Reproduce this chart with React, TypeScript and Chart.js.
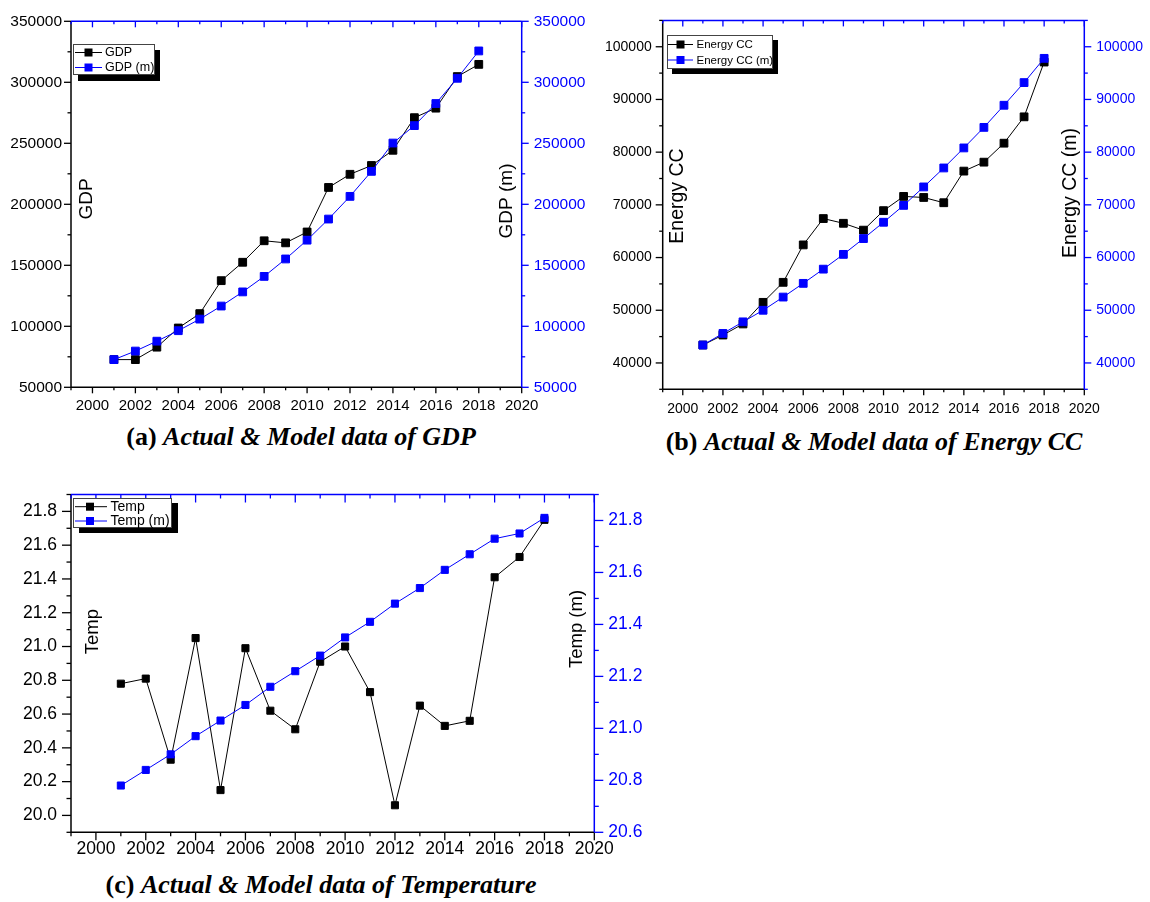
import React, { useEffect, useRef } from "react";
import { Chart, registerables } from "chart.js";

Chart.register(...registerables);

// ---------- data ----------
const years = [2001, 2002, 2003, 2004, 2005, 2006, 2007, 2008, 2009, 2010, 2011, 2012, 2013, 2014, 2015, 2016, 2017, 2018];

const gdpActual = [72700, 72700, 82900, 98600, 110400, 137400, 152500, 170100, 168400, 177300, 213800, 224600, 231800, 244300, 271000, 278800, 304700, 314700];
const gdpModel = [72700, 79700, 87800, 96400, 105900, 116600, 128200, 140900, 155200, 170600, 187900, 206500, 227000, 250200, 264500, 282600, 303300, 325700];

const energyActual = [43400, 45300, 47400, 51500, 55300, 62400, 67400, 66500, 65200, 68900, 71600, 71400, 70400, 76400, 78100, 81700, 86700, 97100];
const energyModel = [43400, 45600, 47800, 50000, 52500, 55100, 57800, 60600, 63600, 66700, 69900, 73400, 77000, 80800, 84700, 88900, 93200, 97800];

const tempActual = [20.78, 20.81, 20.33, 21.05, 20.15, 20.99, 20.62, 20.51, 20.91, 21.0, 20.73, 20.06, 20.65, 20.53, 20.56, 21.41, 21.53, 21.75];
const tempModel = [20.78, 20.84, 20.9, 20.97, 21.03, 21.09, 21.16, 21.22, 21.28, 21.35, 21.41, 21.48, 21.54, 21.61, 21.67, 21.73, 21.75, 21.81];

// tick labels
const xTickYears = [2000, 2002, 2004, 2006, 2008, 2010, 2012, 2014, 2016, 2018, 2020];
const gdpTicks = [50000, 100000, 150000, 200000, 250000, 300000, 350000];
const energyTicks = [40000, 50000, 60000, 70000, 80000, 90000, 100000];
const tempTicks = [20.0, 20.2, 20.4, 20.6, 20.8, 21.0, 21.2, 21.4, 21.6, 21.8];
const tempModelTicks = [20.6, 20.8, 21.0, 21.2, 21.4, 21.6, 21.8];

const BLUE = "#0000ff";
const SANS = "'Liberation Sans', Arial, Helvetica, sans-serif";
const SERIF = "'Liberation Serif', 'Times New Roman', serif";

type LegendCfg = {
  x: number; y: number; w: number; h: number; sdx: number; sdy: number;
  rows: number[]; lineX0: number; lineX1: number; markerX: number; markerSize: number;
  textX: number; font: number;
};

type PanelCfg = {
  left: number; top: number; width: number; height: number;
  padL: number; padR: number; padT: number; padB: number;
  yMin: number; yMax: number; yTicks: number[];
  y2Min: number; y2Max: number; y2Ticks: number[];
  decimals: number;
  yFont: number; xFont: number;
  yPadL: number; yPadR: number; xPad: number;
  tickMajor: number; tickMinor: number;
  actual: number[]; model: number[];
  labelA: string; labelM: string;
  pointRadius: number;
  legend: LegendCfg;
  titleL: { x: number; y: number; size: number };
  titleR: { x: number; y: number; size: number };
};

const panels: PanelCfg[] = [
  {
    left: 0, top: 0, width: 590, height: 420,
    padL: 71, padR: 68.3, padT: 16, padB: 32.7,
    yMin: 50000, yMax: 350000, yTicks: gdpTicks,
    y2Min: 50000, y2Max: 350000, y2Ticks: gdpTicks,
    decimals: 0,
    yFont: 15.5, xFont: 15,
    yPadL: 9, yPadR: 12, xPad: 10,
    tickMajor: 7, tickMinor: 3.5,
    actual: gdpActual, model: gdpModel,
    labelA: "GDP", labelM: "GDP (m)",
    pointRadius: 5.5,
    legend: { x: 73, y: 44, w: 82, h: 31, sdx: 5, sdy: 6, rows: [52.5, 67.5], lineX0: 75, lineX1: 102, markerX: 88.5, markerSize: 8, textX: 105, font: 12.5 },
    titleL: { x: 87, y: 199, size: 19 },
    titleR: { x: 507, y: 201, size: 19 },
  },
  {
    left: 590, top: 0, width: 560, height: 420,
    padL: 72.7, padR: 65.7, padT: 14, padB: 30.7,
    yMin: 35000, yMax: 105000, yTicks: energyTicks,
    y2Min: 35000, y2Max: 105000, y2Ticks: energyTicks,
    decimals: 0,
    yFont: 14, xFont: 14,
    yPadL: 11, yPadR: 12, xPad: 11.5,
    tickMajor: 7, tickMinor: 3.5,
    actual: energyActual, model: energyModel,
    labelA: "Energy CC", labelM: "Energy CC (m)",
    pointRadius: 5.5,
    legend: { x: 77, y: 35, w: 106, h: 34, sdx: 5, sdy: 5, rows: [44.5, 60], lineX0: 78, lineX1: 103, markerX: 90.5, markerSize: 8, textX: 106.5, font: 11.5 },
    titleL: { x: 88, y: 196, size: 19.5 },
    titleR: { x: 481, y: 193, size: 19.5 },
  },
  {
    left: 0, top: 470, width: 660, height: 400,
    padL: 71, padR: 65.7, padT: 11.7, padB: 37.7,
    yMin: 19.9, yMax: 21.9, yTicks: tempTicks,
    y2Min: 20.6, y2Max: 21.9, y2Ticks: tempModelTicks,
    decimals: 1,
    yFont: 17.5, xFont: 17.5,
    yPadL: 14, yPadR: 14, xPad: 6.5,
    tickMajor: 9, tickMinor: 4.5,
    actual: tempActual, model: tempModel,
    labelA: "Temp", labelM: "Temp (m)",
    pointRadius: 5,
    legend: { x: 73, y: 28, w: 99, h: 30, sdx: 6, sdy: 5, rows: [36.7, 51], lineX0: 75, lineX1: 107, markerX: 90, markerSize: 8, textX: 110.5, font: 14 },
    titleL: { x: 93, y: 161.7, size: 18.5 },
    titleR: { x: 577, y: 159, size: 18.5 },
  },
];

const captions = [
  { label: "(a)", text: "Actual & Model data of GDP", x: 301, y: 437 },
  { label: "(b)", text: "Actual & Model data of Energy CC", x: 874, y: 442 },
  { label: "(c)", text: "Actual & Model data of Temperature", x: 321, y: 885 },
];

function minorValues(ticks: number[], min: number, max: number): number[] {
  // midpoints between label ticks, extended to cover the axis range
  const step = ticks[1] - ticks[0];
  const out: number[] = [];
  for (let v = ticks[0] - step / 2; v >= min - 1e-9; v -= step) out.push(v);
  for (let i = 0; i < ticks.length; i++) {
    const m = ticks[i] + step / 2;
    if (m <= max + 1e-9) out.push(m);
  }
  return out;
}

function makeDecoPlugin(cfg: PanelCfg) {
  return {
    id: "deco",
    afterDatasetsDraw(chart: any) {
      const ctx: CanvasRenderingContext2D = chart.ctx;
      const { left, right, top, bottom } = chart.chartArea;
      const sx = chart.scales.x;
      const sy = chart.scales.y;
      const sy2 = chart.scales.y2;
      ctx.save();
      ctx.lineCap = "butt";
      const line = (x0: number, y0: number, x1: number, y1: number, c: string, w = 1.5) => {
        ctx.strokeStyle = c;
        ctx.lineWidth = w;
        ctx.beginPath();
        ctx.moveTo(x0, y0);
        ctx.lineTo(x1, y1);
        ctx.stroke();
      };
      // axis lines
      line(left, top, left, bottom, "#000");
      line(left, bottom, right, bottom, "#000");
      line(right, top, right, bottom, BLUE);
      line(left, top, right, top, BLUE);

      // x ticks (bottom outward, top inward)
      for (let yr = 1999; yr <= 2020; yr++) {
        const px = sx.getPixelForValue(yr);
        const len = yr % 2 === 0 ? cfg.tickMajor - 1 : cfg.tickMinor - 0.5;
        line(px, bottom, px, bottom + len, "#000", 1.3);
        line(px, top, px, top + len, BLUE, 1.3);
      }
      // left y ticks
      cfg.yTicks.forEach((v) => {
        const py = sy.getPixelForValue(v);
        line(left - cfg.tickMajor, py, left, py, "#000", 1.3);
      });
      minorValues(cfg.yTicks, cfg.yMin, cfg.yMax).forEach((v) => {
        const py = sy.getPixelForValue(v);
        line(left - cfg.tickMinor, py, left, py, "#000", 1.3);
      });
      // right y ticks
      cfg.y2Ticks.forEach((v) => {
        const py = sy2.getPixelForValue(v);
        line(right, py, right + cfg.tickMajor, py, BLUE, 1.3);
      });
      minorValues(cfg.y2Ticks, cfg.y2Min, cfg.y2Max).forEach((v) => {
        const py = sy2.getPixelForValue(v);
        line(right, py, right + cfg.tickMinor, py, BLUE, 1.3);
      });

      // axis titles (inside the plot)
      ctx.fillStyle = "#000";
      ctx.textAlign = "center";
      ctx.textBaseline = "middle";
      const drawV = (t: string, x: number, y: number, size: number) => {
        ctx.save();
        ctx.translate(x, y);
        ctx.rotate(-Math.PI / 2);
        ctx.font = `${size}px ${SANS}`;
        ctx.fillText(t, 0, 0);
        ctx.restore();
      };
      drawV(cfg.labelA, cfg.titleL.x, cfg.titleL.y, cfg.titleL.size);
      drawV(cfg.labelM, cfg.titleR.x, cfg.titleR.y, cfg.titleR.size);

      // legend with drop shadow
      const L = cfg.legend;
      ctx.fillStyle = "#000";
      ctx.fillRect(L.x + L.sdx, L.y + L.sdy, L.w, L.h);
      ctx.fillStyle = "#fff";
      ctx.fillRect(L.x, L.y, L.w, L.h);
      ctx.strokeStyle = "#444";
      ctx.lineWidth = 1;
      ctx.strokeRect(L.x + 0.5, L.y + 0.5, L.w - 1, L.h - 1);
      const entries = [
        { label: cfg.labelA, color: "#000" },
        { label: cfg.labelM, color: BLUE },
      ];
      entries.forEach((e, i) => {
        const ry = L.rows[i];
        line(L.lineX0, ry, L.lineX1, ry, e.color, 1);
        ctx.fillStyle = e.color;
        ctx.fillRect(L.markerX - L.markerSize / 2, ry - L.markerSize / 2, L.markerSize, L.markerSize);
        ctx.fillStyle = "#000";
        ctx.textAlign = "left";
        ctx.textBaseline = "middle";
        ctx.font = `${L.font}px ${SANS}`;
        ctx.fillText(e.label, L.textX, ry + 0.5);
      });
      ctx.restore();
    },
  };
}

function Panel({ cfg }: { cfg: PanelCfg }) {
  const ref = useRef<HTMLCanvasElement>(null);
  useEffect(() => {
    if (!ref.current) return;
    const fmt = (v: any) => Number(v).toFixed(cfg.decimals);
    const chart = new Chart(ref.current, {
      type: "line",
      data: {
        datasets: [
          {
            label: cfg.labelA,
            data: years.map((x, i) => ({ x, y: cfg.actual[i] })),
            xAxisID: "x",
            yAxisID: "y",
            borderColor: "#000",
            backgroundColor: "#000",
            borderWidth: 1,
            pointStyle: "rect",
            pointRadius: cfg.pointRadius,
            pointBorderWidth: 1,
            pointBackgroundColor: "#000",
            pointBorderColor: "#000",
            tension: 0,
            order: 2,
          },
          {
            label: cfg.labelM,
            data: years.map((x, i) => ({ x, y: cfg.model[i] })),
            xAxisID: "x",
            yAxisID: "y2",
            borderColor: BLUE,
            backgroundColor: BLUE,
            borderWidth: 1,
            pointStyle: "rect",
            pointRadius: cfg.pointRadius,
            pointBorderWidth: 1,
            pointBackgroundColor: BLUE,
            pointBorderColor: BLUE,
            tension: 0,
            order: 1,
          },
        ],
      },
      options: {
        responsive: false,
        animation: false,
        devicePixelRatio: 1,
        layout: { padding: { top: cfg.padT, left: 0, right: 0, bottom: 0 } },
        plugins: {
          legend: { display: false },
          tooltip: { enabled: false },
        },
        scales: {
          x: {
            type: "linear",
            position: "bottom",
            min: 1999,
            max: 2020,
            grid: { display: false, drawTicks: false },
            border: { display: false },
            afterFit: (s: any) => { s.height = cfg.padB; },
            afterBuildTicks: (s: any) => { s.ticks = xTickYears.map((v) => ({ value: v })); },
            ticks: {
              autoSkip: false,
              maxRotation: 0,
              padding: cfg.xPad,
              color: "#000",
              font: { family: SANS, size: cfg.xFont },
              callback: (v: any) => String(v),
            },
          },
          y: {
            type: "linear",
            position: "left",
            min: cfg.yMin,
            max: cfg.yMax,
            grid: { display: false, drawTicks: false },
            border: { display: false },
            afterFit: (s: any) => { s.width = cfg.padL; },
            afterBuildTicks: (s: any) => { s.ticks = cfg.yTicks.map((v) => ({ value: v })); },
            ticks: {
              autoSkip: false,
              padding: cfg.yPadL,
              color: "#000",
              font: { family: SANS, size: cfg.yFont },
              callback: fmt,
            },
          },
          y2: {
            type: "linear",
            position: "right",
            min: cfg.y2Min,
            max: cfg.y2Max,
            grid: { display: false, drawTicks: false },
            border: { display: false },
            afterFit: (s: any) => { s.width = cfg.padR; },
            afterBuildTicks: (s: any) => { s.ticks = cfg.y2Ticks.map((v) => ({ value: v })); },
            ticks: {
              autoSkip: false,
              padding: cfg.yPadR,
              color: BLUE,
              font: { family: SANS, size: cfg.yFont },
              callback: fmt,
            },
          },
        },
      } as any,
      plugins: [makeDecoPlugin(cfg) as any],
    });
    return () => chart.destroy();
  }, [cfg]);
  return (
    <canvas
      ref={ref}
      width={cfg.width}
      height={cfg.height}
      style={{ position: "absolute", left: cfg.left, top: cfg.top, width: cfg.width, height: cfg.height }}
    />
  );
}

export default function App() {
  return (
    <div style={{ position: "absolute", left: 0, top: 0, width: 1150, height: 902, background: "#fff", overflow: "hidden" }}>
      {panels.map((p, i) => (
        <Panel key={i} cfg={p} />
      ))}
      {captions.map((c, i) => (
        <div
          key={i}
          style={{
            position: "absolute",
            left: c.x,
            top: c.y,
            transform: "translate(-50%, -50%)",
            whiteSpace: "nowrap",
            fontFamily: SERIF,
            fontWeight: "bold",
            fontSize: 26,
            lineHeight: 1,
            color: "#000",
          }}
        >
          {c.label} <i>{c.text}</i>
        </div>
      ))}
    </div>
  );
}
